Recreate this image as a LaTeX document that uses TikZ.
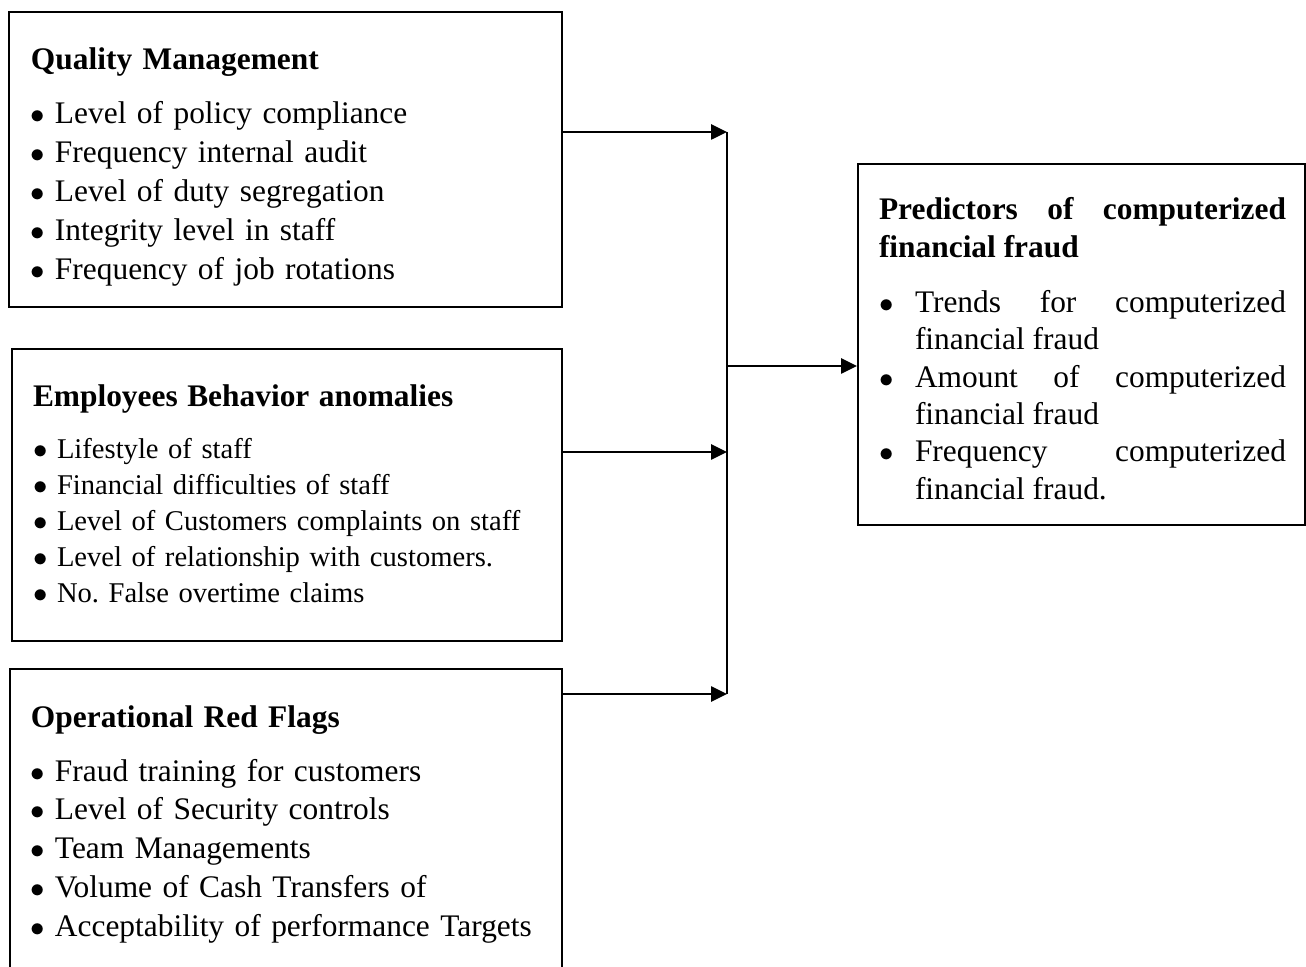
\documentclass[tikz,border=0pt]{standalone}
\usepackage{fontspec}
\setmainfont{Liberation Serif}
\usetikzlibrary{arrows.meta}
\newcommand\bul[1]{\makebox[#1][l]{$\bullet$}}

\begin{document}
\begin{tikzpicture}[x=0.5pt,y=-0.5pt,>={Triangle[length=8pt,width=7.5pt]},line width=1pt,
                    frame/.style={draw,inner sep=0pt,anchor=north west},
                    link/.style={->,line width=1.3pt},
                    txt/.style={inner sep=0pt,anchor=base west,text width=#1,align=left,
                                font=\fontsize{15.7}{19.5}\selectfont}]
                        \useasboundingbox (0,0) rectangle (1306,967);
                        \clip (0,0) rectangle (1306,967);
                        \node[frame,minimum width=276.5pt,minimum height=147.5pt] (qm) at (8,11) {};
                        \node[frame,minimum width=275pt,minimum height=146pt] (eb) at (11,348) {};
                        \node[frame,minimum width=276pt,minimum height=170pt] (orf) at (9,668) {};
                        \node[frame,minimum width=223.5pt,minimum height=180.5pt] (pf) at (857,163) {};
                        \node[txt=265pt] (qmText) at (30,70) {\frenchspacing\textbf{Quality Management}\par\vspace{7.5pt}
                            \bul{12pt}Level of policy compliance\par
                            \bul{12pt}Frequency internal audit\par
                            \bul{12pt}Level of duty segregation\par
                            \bul{12pt}Integrity level in staff\par
                            \bul{12pt}Frequency of job rotations\par};
                        \node[txt=265pt,font=\fontsize{14.3}{18}\selectfont] (ebText) at (32,407)
                            {\frenchspacing{\fontsize{15.7}{19.5}\selectfont\textbf{Employees Behavior anomalies}\par}\vspace{8pt}
                            \bul{12pt}Lifestyle of staff\par
                            \bul{12pt}Financial difficulties of staff\par
                            \bul{12pt}Level of Customers complaints on staff\par
                            \bul{12pt}Level of relationship with customers.\par
                            \bul{12pt}No. False overtime claims\par};
                        \node[txt=265pt,font=\fontsize{15.7}{19.4}\selectfont] (orText) at (30,727)
                            {\frenchspacing\textbf{Operational Red Flags}\par\vspace{7.6pt}
                            \bul{12pt}Fraud training for customers\par
                            \bul{12pt}Level of Security controls\par
                            \bul{12pt}Team Managements\par
                            \bul{12pt}Volume of Cash Transfers of\par
                            \bul{12pt}Acceptability of performance Targets\par};
                        \node[txt=203.5pt,align=justify,font=\fontsize{15.7}{18.7}\selectfont] (pfText) at (878,220)
                            {\tolerance=9999\hyphenpenalty=10000\frenchspacing
                            \textbf{Predictors of computerized financial fraud}\par\vspace{8.8pt}
                            \hangindent=18pt\hangafter=1\bul{18pt}Trends for computerized financial fraud\par
                            \hangindent=18pt\hangafter=1\bul{18pt}Amount of computerized financial fraud\par
                            \hangindent=18pt\hangafter=1\bul{18pt}Frequency computerized financial fraud.\par};
                        \coordinate (j1) at (727,132);
                        \coordinate (j2) at (727,366);
                        \coordinate (j3) at (727,452);
                        \coordinate (j4) at (727,694);
                        \draw[link] (qm.east |- j1) -- (j1);
                        \draw[link] (eb.east |- j3) -- (j3);
                        \draw[link] (orf.east |- j4) -- (j4);
                        \draw (j1) -- (j4);
                        \draw[link] (j2) -- (pf.west |- j2);
                    \end{tikzpicture}
\end{document}
